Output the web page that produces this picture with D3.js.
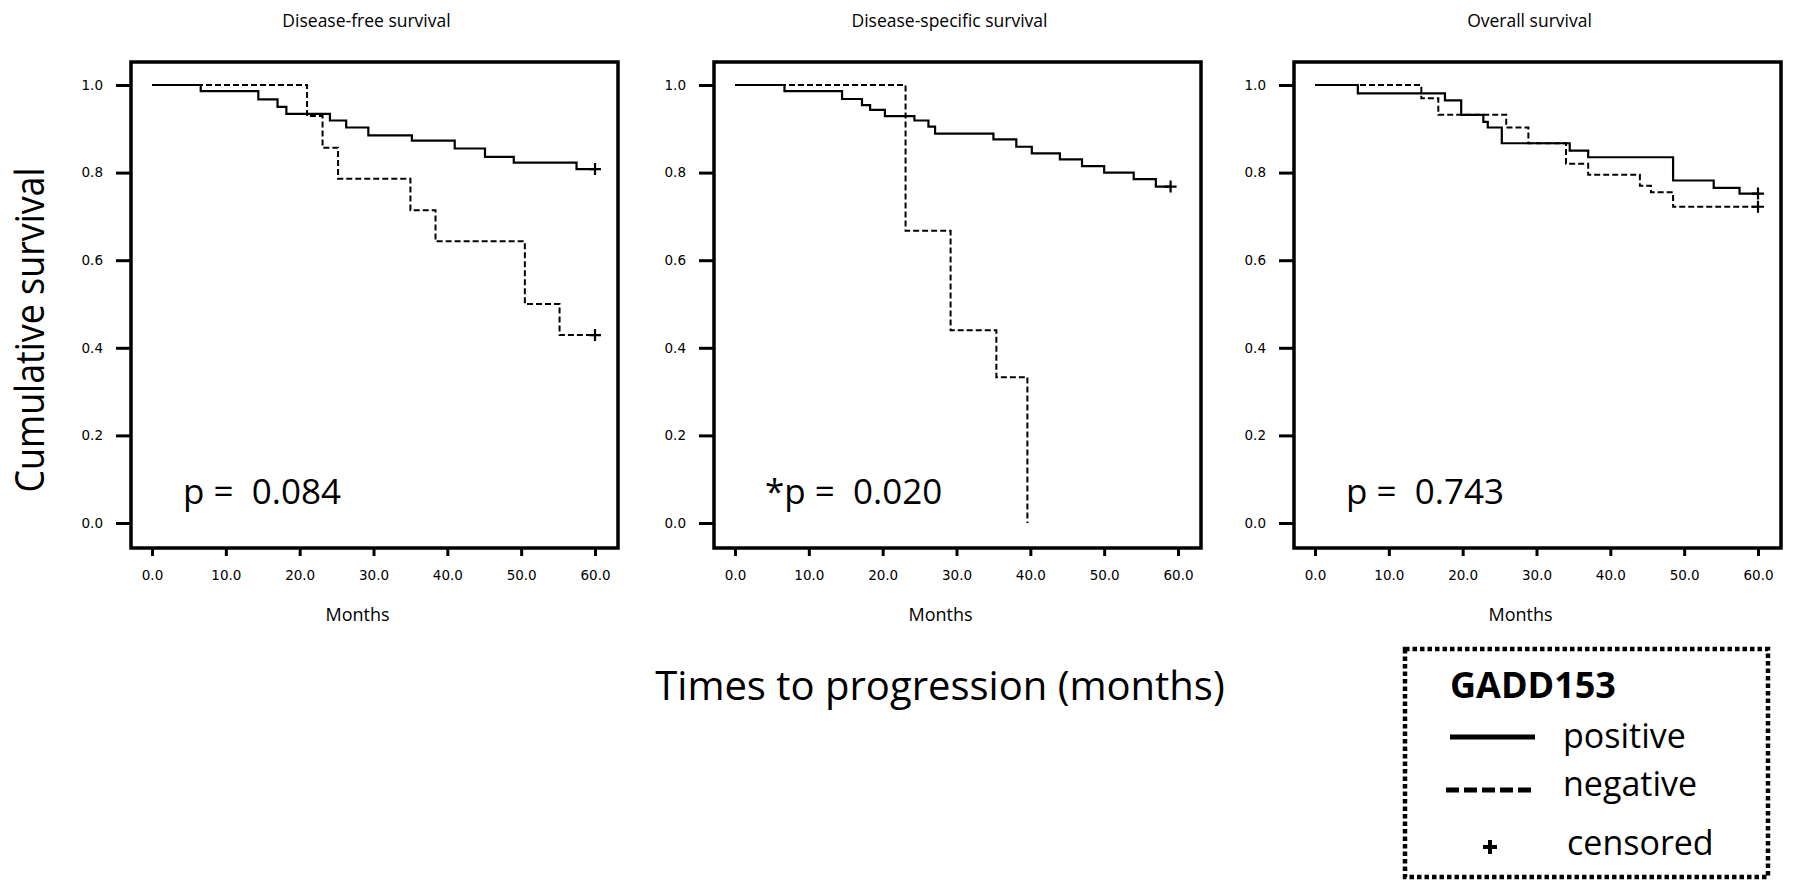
<!DOCTYPE html>
<html>
<head>
<meta charset="utf-8">
<script src="https://cdn.jsdelivr.net/npm/d3@7"></script>
<style>
  body { margin: 0; background: #fff; }
  svg { display: block; }
  .tick text { font-family: "DejaVu Sans", sans-serif; font-size: 13.5px; fill: #000; }
  .tick line { stroke: #000; stroke-width: 3px; }
</style>
</head>
<body>
<svg id="chart" width="1795" height="893"></svg>
<script>
// Kaplan-Meier curves, GADD153 positive vs negative

const monthTicks = [0, 10, 20, 30, 40, 50, 60];
const survTicks = [0, 0.2, 0.4, 0.6, 0.8, 1.0];
const panelTitles = ['Disease-free survival', 'Disease-specific survival', 'Overall survival'];
const pLabels = ['p =  0.084', '*p =  0.020', 'p =  0.743'];

// [month, survival] at each step, last point = end of follow-up
const dfsPositive = [[0, 1], [6.6, 0.986], [14.4, 0.967], [17.0, 0.950], [18.2, 0.934], [24.1, 0.919],
  [26.3, 0.903], [29.3, 0.885], [35.2, 0.873], [41.0, 0.855], [45.1, 0.836], [49.0, 0.823], [57.5, 0.808], [60, 0.808]];
const dfsNegative = [[0, 1], [21.0, 0.929], [23.1, 0.857], [25.2, 0.786], [35.0, 0.714], [38.4, 0.643],
  [50.5, 0.500], [55.2, 0.429], [60, 0.429]];

const dssPositive = [[0, 1], [6.7, 0.986], [14.5, 0.968], [17.2, 0.954], [18.3, 0.943], [20.3, 0.929],
  [24.3, 0.919], [26.2, 0.905], [27.1, 0.889], [35.0, 0.876], [38.1, 0.859], [40.2, 0.844],
  [44.0, 0.830], [47.0, 0.815], [50.0, 0.800], [54.0, 0.785], [57.0, 0.768], [59, 0.768]];
const dssNegative = [[0, 1], [23.1, 0.667], [29.2, 0.440], [35.4, 0.333], [39.6, 0.0], [39.6, 0.0]];

const osPositive = [[0, 1], [5.8, 0.981], [17.6, 0.965], [19.8, 0.932], [22.8, 0.916], [23.4, 0.903],
  [25.3, 0.867], [34.5, 0.850], [37.0, 0.835], [48.5, 0.782], [54.0, 0.765], [57.5, 0.752], [60, 0.752]];
const osNegative = [[0, 1], [14.4, 0.970], [16.7, 0.932], [25.9, 0.903], [28.9, 0.867], [34.0, 0.820],
  [37.0, 0.795], [44.0, 0.770], [45.5, 0.755], [48.5, 0.722], [60, 0.722]];

// which series end in a censored mark
const panels = [
  { pos: dfsPositive, neg: dfsNegative, censorPos: true, censorNeg: true },
  { pos: dssPositive, neg: dssNegative, censorPos: true, censorNeg: false },
  { pos: osPositive, neg: osNegative, censorPos: true, censorNeg: true }
];

const svg = d3.select('#chart');
const frameLefts = [131, 714, 1294];
const frameW = 487, frameTop = 62, frameH = 486;
const font = '"Open Sans", sans-serif';

panels.forEach((p, i) => {
  const left = frameLefts[i];
  const g = svg.append('g');

  const x = d3.scaleLinear().domain([0, 60]).range([left + 21, left + 464]);
  const y = d3.scaleLinear().domain([0, 1]).range([523, 85]);

  // title
  g.append('text')
    .attr('x', left + frameW / 2 - 8).attr('y', 27)
    .attr('text-anchor', 'middle')
    .style('font-family', font).style('font-size', '17.5px')
    .text(panelTitles[i]);

  // axes
  const yAxis = g.append('g').attr('transform', `translate(${left},0)`)
    .call(d3.axisLeft(y).tickValues(survTicks).tickFormat(d3.format('.1f')).tickSize(15).tickPadding(13));
  yAxis.select('.domain').remove();

  const xAxis = g.append('g').attr('transform', `translate(0,${frameTop + frameH})`)
    .call(d3.axisBottom(x).tickValues(monthTicks).tickFormat(d3.format('.1f')).tickSize(8).tickPadding(14));
  xAxis.select('.domain').remove();

  g.append('text')
    .attr('x', x(30) - 16).attr('y', 621)
    .attr('text-anchor', 'middle')
    .style('font-family', font).style('font-size', '18px')
    .text('Months');

  // survival curves
  const line = d3.line().x(d => x(d[0])).y(d => y(d[1])).curve(d3.curveStepAfter);

  g.append('path').attr('d', line(p.neg))
    .attr('fill', 'none').attr('stroke', '#000').attr('stroke-width', 2)
    .attr('stroke-dasharray', '6,3');
  g.append('path').attr('d', line(p.pos))
    .attr('fill', 'none').attr('stroke', '#000').attr('stroke-width', 2.2);

  const censored = [];
  if (p.censorPos) censored.push(p.pos[p.pos.length - 1]);
  if (p.censorNeg) censored.push(p.neg[p.neg.length - 1]);
  g.selectAll('.cens').data(censored).join('path')
    .attr('class', 'cens')
    .attr('d', d => `M${x(d[0]) - 6},${y(d[1])}h12M${x(d[0])},${y(d[1]) - 6}v12`)
    .attr('stroke', '#000').attr('stroke-width', 2.2);

  // p value
  g.append('text')
    .attr('x', i === 1 ? left + 51 : left + 52).attr('y', 504)
    .style('font-family', font).style('font-size', '35px').style('white-space', 'pre')
    .text(pLabels[i]);

  // frame
  g.append('rect')
    .attr('x', left).attr('y', frameTop).attr('width', frameW).attr('height', frameH)
    .attr('fill', 'none').attr('stroke', '#000').attr('stroke-width', 3.5);
});

// shared labels
svg.append('text')
  .attr('transform', 'translate(44,330) rotate(-90)')
  .attr('text-anchor', 'middle')
  .attr('textLength', 325).attr('lengthAdjust', 'spacingAndGlyphs')
  .style('font-family', font).style('font-size', '41px')
  .text('Cumulative survival');

svg.append('text')
  .attr('x', 940).attr('y', 700)
  .attr('text-anchor', 'middle')
  .style('font-family', font).style('font-size', '40px')
  .text('Times to progression (months)');

// legend
const lg = svg.append('g');
lg.append('rect')
  .attr('x', 1405).attr('y', 649).attr('width', 363).attr('height', 228)
  .attr('fill', 'none').attr('stroke', '#000').attr('stroke-width', 4.5)
  .attr('stroke-dasharray', '4.5,3');
lg.append('text').attr('x', 1450).attr('y', 698)
  .style('font-family', font).style('font-size', '36px').style('font-weight', 'bold')
  .text('GADD153');
lg.append('line').attr('x1', 1450).attr('x2', 1535).attr('y1', 737).attr('y2', 737)
  .attr('stroke', '#000').attr('stroke-width', 5);
lg.append('line').attr('x1', 1446).attr('x2', 1531).attr('y1', 790).attr('y2', 790)
  .attr('stroke', '#000').attr('stroke-width', 5).attr('stroke-dasharray', '13,5');
lg.append('path').attr('d', 'M1483,847h14M1490,840v14')
  .attr('stroke', '#000').attr('stroke-width', 4);
const legendText = ['positive', 'negative', 'censored'];
const legendY = [748, 796, 855];
const legendX = [1563, 1563, 1567];
legendText.forEach((t, k) => {
  lg.append('text').attr('x', legendX[k]).attr('y', legendY[k])
    .style('font-family', font).style('font-size', '34px')
    .text(t);
});
</script>
</body>
</html>
